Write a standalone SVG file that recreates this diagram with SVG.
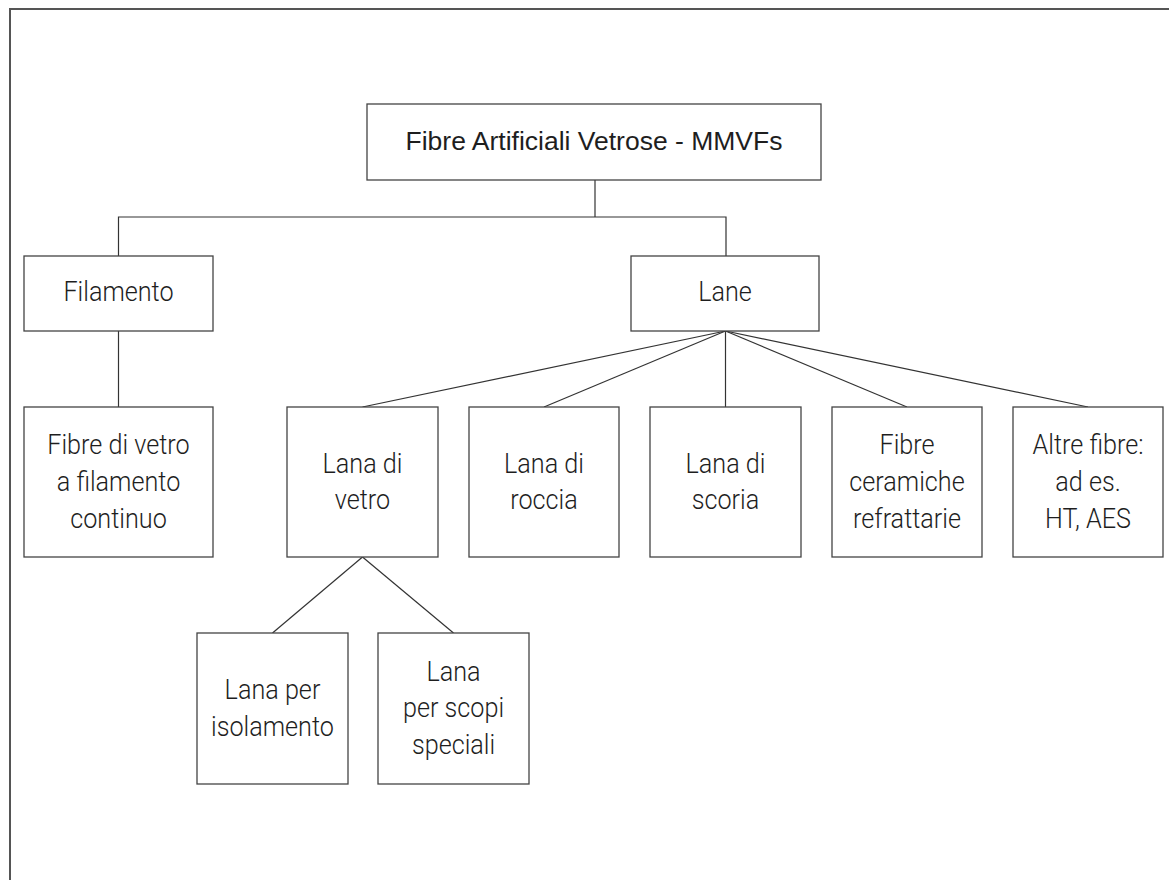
<svg xmlns="http://www.w3.org/2000/svg" width="1169" height="880" viewBox="0 0 1169 880">
<style>
  .box { fill: #ffffff; stroke: #444444; stroke-width: 1.3; }
  .conn { fill: none; stroke: #333333; stroke-width: 1.2; }
  .title { font-family: "Liberation Sans", Arial, sans-serif; font-size: 26.5px; fill: #1e1e1e; text-anchor: middle; }
  .lbl { font-family: Roboto, "Liberation Sans", sans-serif; font-weight: 300; font-size: 28px; fill: #1e1e1e; text-anchor: middle; }
</style>
<rect x="0" y="0" width="1169" height="880" fill="#ffffff"/>
<rect x="10" y="9" width="1200" height="900" fill="none" stroke="#555555" stroke-width="2"/>

<g id="connectors">
  <line class="conn" x1="595" y1="180" x2="595" y2="217"/>
  <polyline class="conn" points="118.5,256 118.5,217 726,217 726,256"/>
  <line class="conn" x1="118.5" y1="331" x2="118.5" y2="407"/>
  <line class="conn" x1="725.5" y1="331" x2="362.5" y2="407"/>
  <line class="conn" x1="725.5" y1="331" x2="544" y2="407"/>
  <line class="conn" x1="725.5" y1="331" x2="725.5" y2="407"/>
  <line class="conn" x1="725.5" y1="331" x2="907" y2="407"/>
  <line class="conn" x1="725.5" y1="331" x2="1088" y2="407"/>
  <line class="conn" x1="362.5" y1="557" x2="272.5" y2="633"/>
  <line class="conn" x1="362.5" y1="557" x2="453.5" y2="633"/>
</g>

<g id="n-root">
  <rect class="box" x="367" y="104" width="454" height="76"/>
  <text class="title" x="594" y="150">Fibre Artificiali Vetrose - MMVFs</text>
</g>

<g id="n-filamento">
  <rect class="box" x="24" y="256" width="189" height="75"/>
  <text class="lbl" transform="translate(118.5,301) scale(0.9,1)" x="0" y="0">Filamento</text>
</g>

<g id="n-lane">
  <rect class="box" x="631" y="256" width="188" height="75"/>
  <text class="lbl" transform="translate(725,301) scale(0.9,1)" x="0" y="0">Lane</text>
</g>

<g id="n-fibre-vetro">
  <rect class="box" x="24" y="407" width="189" height="150"/>
  <text class="lbl" transform="translate(118.5,454) scale(0.9,1)"><tspan x="0" y="0">Fibre di vetro</tspan><tspan x="0" y="37">a filamento</tspan><tspan x="0" y="74">continuo</tspan></text>
</g>

<g id="n-lana-vetro">
  <rect class="box" x="287" y="407" width="151" height="150"/>
  <text class="lbl" transform="translate(362.5,472.5) scale(0.9,1)"><tspan x="0" y="0">Lana di</tspan><tspan x="0" y="37">vetro</tspan></text>
</g>

<g id="n-lana-roccia">
  <rect class="box" x="469" y="407" width="150" height="150"/>
  <text class="lbl" transform="translate(544,472.5) scale(0.9,1)"><tspan x="0" y="0">Lana di</tspan><tspan x="0" y="37">roccia</tspan></text>
</g>

<g id="n-lana-scoria">
  <rect class="box" x="650" y="407" width="151" height="150"/>
  <text class="lbl" transform="translate(725.5,472.5) scale(0.9,1)"><tspan x="0" y="0">Lana di</tspan><tspan x="0" y="37">scoria</tspan></text>
</g>

<g id="n-ceramiche">
  <rect class="box" x="832" y="407" width="150" height="150"/>
  <text class="lbl" transform="translate(907,454) scale(0.9,1)"><tspan x="0" y="0">Fibre</tspan><tspan x="0" y="37">ceramiche</tspan><tspan x="0" y="74">refrattarie</tspan></text>
</g>

<g id="n-altre">
  <rect class="box" x="1013" y="407" width="150" height="150"/>
  <text class="lbl" transform="translate(1088,454) scale(0.9,1)"><tspan x="0" y="0">Altre fibre:</tspan><tspan x="0" y="37">ad es.</tspan><tspan x="0" y="74">HT, AES</tspan></text>
</g>

<g id="n-isolamento">
  <rect class="box" x="197" y="633" width="151" height="151"/>
  <text class="lbl" transform="translate(272.5,698.5) scale(0.9,1)"><tspan x="0" y="0">Lana per</tspan><tspan x="0" y="38">isolamento</tspan></text>
</g>

<g id="n-scopi-speciali">
  <rect class="box" x="378" y="633" width="151" height="151"/>
  <text class="lbl" transform="translate(453.5,680.5) scale(0.9,1)"><tspan x="0" y="0">Lana</tspan><tspan x="0" y="37">per scopi</tspan><tspan x="0" y="74">speciali</tspan></text>
</g>
</svg>
